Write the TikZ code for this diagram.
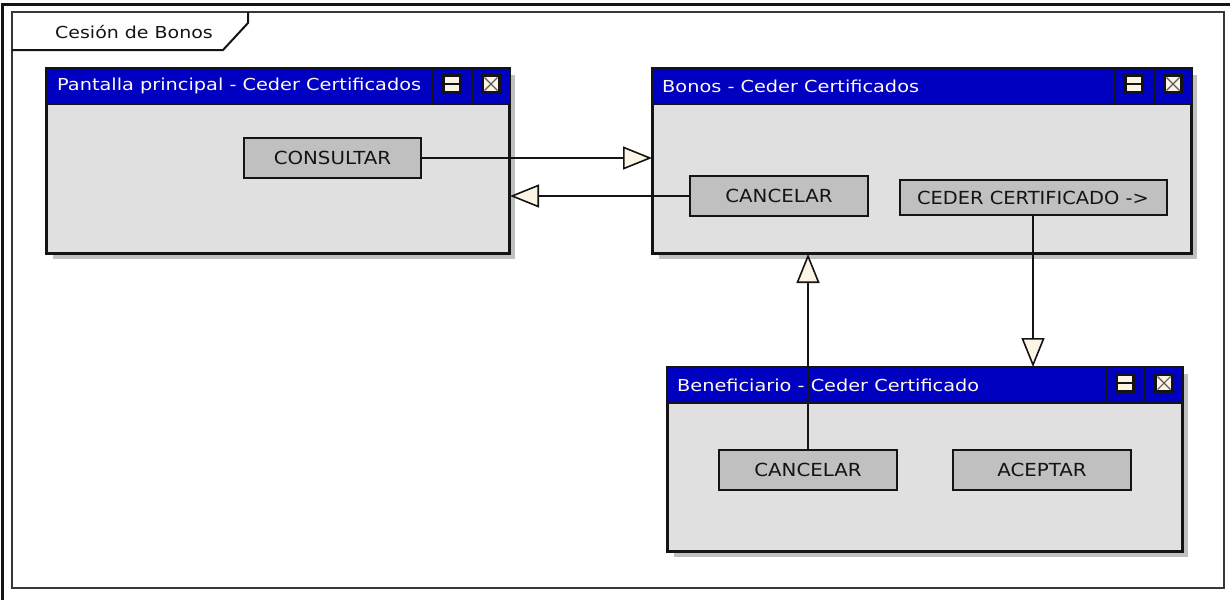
\documentclass[tikz,border=0pt]{standalone}
\usepackage{fontspec}
\usepackage{graphicx}
\usetikzlibrary{arrows.meta,calc,shadows}
\newfontfamily\uifont{DejaVu Sans}
\definecolor{tbar}{RGB}{0,0,192}
\definecolor{wbody}{RGB}{224,224,224}
\definecolor{shad}{RGB}{192,192,192}
\definecolor{btn}{RGB}{192,192,192}
\definecolor{cream}{RGB}{252,244,228}
\definecolor{titletxt}{RGB}{255,248,236}
\definecolor{ink}{RGB}{20,20,20}
\newcommand{\hs}[2]{\scalebox{#1}[1]{#2}}
\newcommand{\wicons}[1]{%
  \draw[ink, line width=2pt] ($(#1.north east)+(-77,0)$) -- ($(#1.north east)+(-77,36)$);
  \draw[ink, line width=2pt] ($(#1.north east)+(-38,0)$) -- ($(#1.north east)+(-38,36)$);
  \draw[ink, fill=cream, line width=2.4pt] ($(#1.north east)+(-66.5,7.5)$) rectangle ($(#1.north east)+(-49.5,24.5)$);
  \draw[ink, line width=2.4pt] ($(#1.north east)+(-66.5,16)$) -- ($(#1.north east)+(-49.5,16)$);
  \draw[ink, fill=cream, line width=2.4pt] ($(#1.north east)+(-27.5,7.5)$) rectangle ($(#1.north east)+(-10.5,24.5)$);
  \draw[ink!70, line width=1.1pt] ($(#1.north east)+(-25.5,9.5)$) -- ($(#1.north east)+(-12.5,22.5)$)
                                ($(#1.north east)+(-12.5,9.5)$) -- ($(#1.north east)+(-25.5,22.5)$);
}
\newcommand{\wtitle}[1]{%
  \fill[tbar] (#1.north west) rectangle ($(#1.north east)+(0,36)$);
  \draw[ink, line width=2pt] ($(#1.north west)+(0,36)$) -- ($(#1.north east)+(0,36)$);
  \draw[ink, line width=2pt] (#1.north west) rectangle (#1.south east);
}
\tikzset{
  window/.style={draw=ink, line width=2pt, fill=wbody, anchor=north west, inner sep=0pt,
    general shadow={fill=shad, shadow xshift=6pt, shadow yshift=-6pt}},
  wtext/.style={anchor=west, inner sep=0pt, text=titletxt, font=\uifont\fontsize{16.5}{19}\selectfont},
  button/.style={draw=ink, line width=2pt, fill=btn, inner sep=0pt, text=ink,
    font=\uifont\fontsize{18}{20}\selectfont},
  conn/.style={draw=ink, line width=2pt,
    -{Triangle[length=29pt, width=23pt, fill=cream, line width=1.6pt]}},
  tabtext/.style={inner sep=0pt, text=ink, font=\uifont\fontsize{16.5}{19}\selectfont}
}
\begin{document}
\begin{tikzpicture}[x=1pt,y=-1pt]
\useasboundingbox (0,0) rectangle (1230,600);
\fill[white] (0,0) rectangle (1230,600);
% outer and inner frame
\draw[ink, line width=2.4pt] (2.5,600) -- (2.5,4.5) -- (1230,4.5);
\draw[ink!85, line width=2pt] (12,12) rectangle (1224,588);
\draw[ink, line width=2pt] (12,50) -- (223,50) -- (248,23) -- (248,12);
\node[tabtext] (tab) at (134,32) {\hs{1.15}{Cesión de Bonos}};

% windows
\node[window, minimum width=462, minimum height=184] (w1) at (46,68) {};
\node[window, minimum width=538, minimum height=184] (w2) at (652,68) {};
\node[window, minimum width=514, minimum height=183] (w3) at (667,367) {};
\wtitle{w1}
\wtitle{w2}
\wtitle{w3}
\wicons{w1}
\wicons{w2}
\wicons{w3}
\node[wtext] (t1) at ($(w1.north west)+(11,18)$) {\hs{1.17}{Pantalla principal - Ceder Certificados}};
\node[wtext] (t2) at ($(w2.north west)+(10,18)$) {\hs{1.17}{Bonos - Ceder Certificados}};
\node[wtext] (t3) at ($(w3.north west)+(10,18)$) {\hs{1.17}{Beneficiario - Ceder Certificado}};

% buttons
\node[button, minimum width=177, minimum height=40] (cons) at (332.5,158) {\hs{1.1}{CONSULTAR}};
\node[button, minimum width=178, minimum height=40] (canc2) at (779,196) {\hs{1.1}{CANCELAR}};
\node[button, minimum width=267, minimum height=35] (ceder) at (1033,197.5) {\hs{1.08}{CEDER CERTIFICADO ->}};
\node[button, minimum width=178, minimum height=40] (canc3) at (808,470) {\hs{1.1}{CANCELAR}};
\node[button, minimum width=178, minimum height=40] (acep) at (1042,470) {\hs{1.1}{ACEPTAR}};

% connectors
\draw[conn] (cons.east) -- (cons.east -| w2.west);
\draw[conn] (canc2.west) -- (canc2.west -| w1.east);
\draw[conn] (ceder.south) -- (ceder.south |- w3.north);
\draw[conn] (canc3.north) -- (canc3.north |- w2.south);
\end{tikzpicture}
\end{document}
